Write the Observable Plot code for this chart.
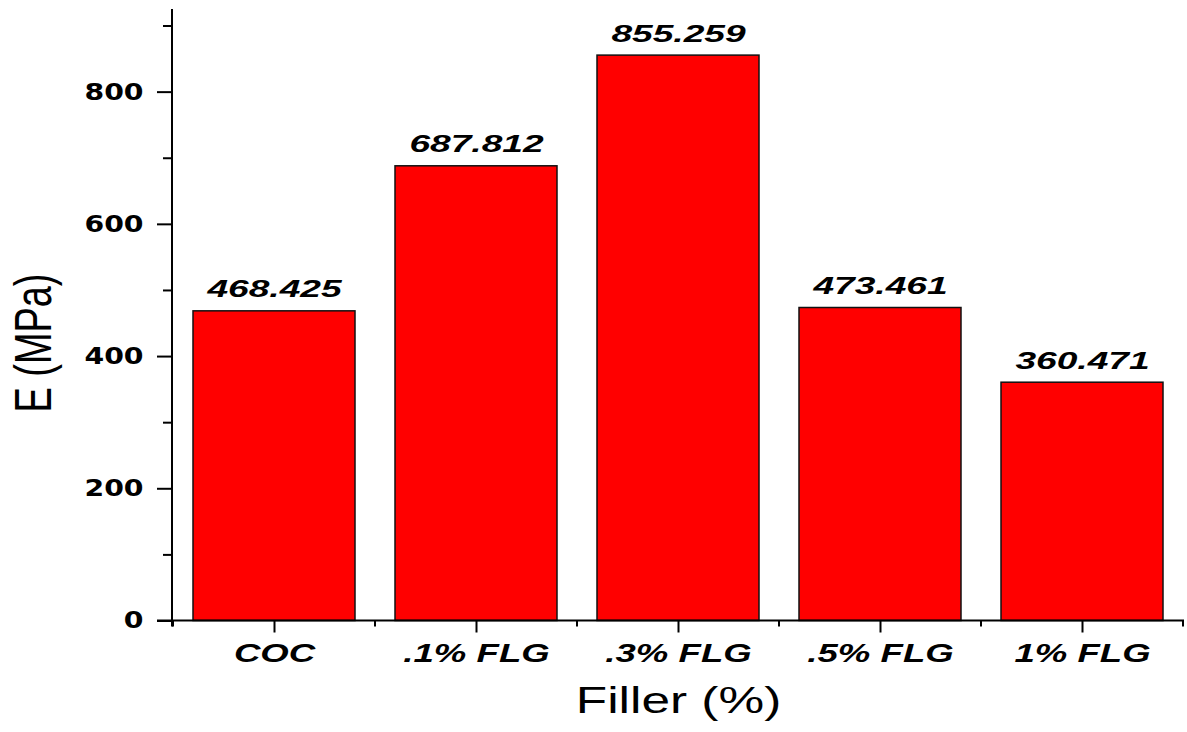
<!DOCTYPE html>
<html>
<head>
<meta charset="utf-8">
<script src="https://cdn.jsdelivr.net/npm/d3@7"></script>
<script src="https://cdn.jsdelivr.net/npm/@observablehq/plot@0.6"></script>
<style>
  html, body { margin: 0; padding: 0; background: #fff; }
  #chart svg { display: block; }
</style>
</head>
<body>
<div id="chart"></div>
<script>
// ---- data ----
const categories = ["COC", ".1% FLG", ".3% FLG", ".5% FLG", "1% FLG"];
const values = [468.425, 687.812, 855.259, 473.461, 360.471];
const valueLabels = ["468.425", "687.812", "855.259", "473.461", "360.471"];
const yMajorTicks = [0, 200, 400, 600, 800];
const yMinorTicks = [100, 300, 500, 700, 900];
const xTitle = "Filler (%)";
const yTitle = "E (MPa)";

const data = categories.map((c, i) => ({cat: c, value: values[i], label: valueLabels[i]}));

const W = 1187, H = 732;
const mL = 172, mT = 9, mR = 3, mB = 111.5;

function axisLines(index, scales, values, dims) {
  const g = d3.create("svg:g").attr("stroke", "#000").attr("stroke-width", 2).attr("fill", "none");
  const {width, height, marginLeft, marginRight, marginTop, marginBottom} = dims;
  const y0 = height - marginBottom;
  const x = scales.x;
  const bw = x.bandwidth ? x.bandwidth() : scales.scales.x.bandwidth;
  const st = x.step ? x.step() : scales.scales.x.step;
  const bounds = categories.map(c => x(c) - (st - bw) / 2);
  bounds.push(x(categories[categories.length - 1]) + bw + (st - bw) / 2);
  // minor x ticks at category boundaries
  for (const b of bounds) {
    g.append("line").attr("x1", b).attr("x2", b).attr("y1", y0).attr("y2", y0 + 6);
  }
  // axis lines
  g.append("line").attr("x1", marginLeft).attr("x2", marginLeft).attr("y1", marginTop).attr("y2", y0 + 6);
  g.append("line").attr("x1", marginLeft - 15).attr("x2", width - marginRight).attr("y1", y0).attr("y2", y0);
  return g.node();
}

const chart = Plot.plot({
  width: W,
  height: H,
  marginLeft: mL,
  marginTop: mT,
  marginRight: mR,
  marginBottom: mB,
  style: {background: "#fff", overflow: "visible"},
  x: {type: "band", domain: categories, paddingInner: 0.2, paddingOuter: 0.1, label: null},
  y: {domain: [0, 925], label: null},
  marks: [
    Plot.barY(data, {x: "cat", y: "value", fill: "#ff0000", stroke: "#111", strokeWidth: 1.5}),
    Plot.text(data, {x: "cat", y: "value", text: "label", lineAnchor: "bottom", dy: -14,
      fontFamily: "Liberation Sans, Arial, sans-serif", fontWeight: "bold", fontStyle: "italic",
      fontSize: 23.5, fill: "#000", className: "vlabel"}),
    Plot.axisY({ticks: yMajorTicks, tickSize: 15, tickPadding: 14, strokeWidth: 2,
      fontSize: 23, fontWeight: "bold", fontFamily: "DejaVu Sans, Verdana, sans-serif",
      tickFormat: d => String(d), label: null, className: "ytick", color: "#000"}),
    Plot.axisY({ticks: yMinorTicks, tickSize: 9, strokeWidth: 2, tickFormat: () => "", label: null}),
    Plot.axisX({tickSize: 12, tickPadding: 10, strokeWidth: 2, fontSize: 26.5, fontWeight: "bold",
      fontStyle: "italic", fontFamily: "Liberation Sans, Arial, sans-serif", label: null,
      className: "xtick", color: "#000"}),
    axisLines,
    Plot.text([xTitle], {frameAnchor: "bottom", text: d => d, dy: 92, fontSize: 37.5,
      fontFamily: "Liberation Sans, Arial, sans-serif", fill: "#000", className: "xtitle"}),
    Plot.text([yTitle], {frameAnchor: "left", text: d => d, rotate: -90, textAnchor: "start",
      dx: -138.5, dy: 97.25,
      fontSize: 51.7, fontFamily: "Liberation Sans, Arial, sans-serif", fill: "#000", className: "ytitle"})
  ]
});

document.getElementById("chart").appendChild(chart);

// Horizontal stretch of text to match the reference's wide lettering
function stretch(selector, factor, fixed) {
  chart.querySelectorAll(selector).forEach(t => {
    if (!t.textContent) return;
    const L = t.getComputedTextLength();
    t.setAttribute("textLength", fixed != null ? fixed : L * factor);
    t.setAttribute("lengthAdjust", "spacingAndGlyphs");
  });
}
stretch(".vlabel text", 1.58);
stretch(".ytick text", 1.23);
stretch(".xtick text", 1.38);
stretch(".xtitle text", 1.37);
stretch(".ytitle text", 1, 139);
</script>
</body>
</html>
